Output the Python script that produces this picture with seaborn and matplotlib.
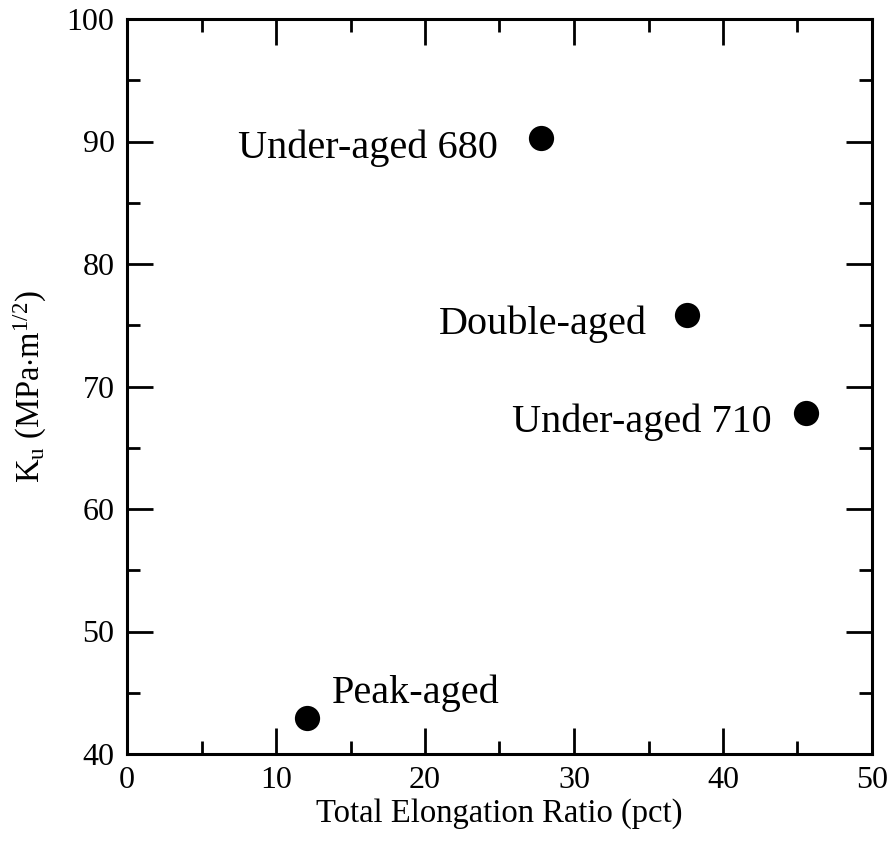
import matplotlib
matplotlib.use("Agg")
import matplotlib.pyplot as plt
import seaborn as sns
import pandas as pd
from matplotlib.ticker import MultipleLocator

# Data
conditions = ["Peak-aged", "Under-aged 680", "Double-aged", "Under-aged 710"]
elongation = [12.1, 27.8, 37.6, 45.55]
ku = [42.9, 90.3, 75.8, 67.8]

df = pd.DataFrame({"elong": elongation, "ku": ku, "cond": conditions})

sns.set_theme(style="white")
plt.rcParams["font.family"] = ["Liberation Serif", "DejaVu Serif"]
plt.rcParams["mathtext.fontset"] = "custom"
plt.rcParams["mathtext.rm"] = "Liberation Serif"
plt.rcParams["mathtext.it"] = "Liberation Serif:italic"
plt.rcParams["text.color"] = "black"
plt.rcParams["axes.labelcolor"] = "black"
plt.rcParams["xtick.color"] = "black"
plt.rcParams["ytick.color"] = "black"

fig = plt.figure(figsize=(8.89, 8.42), dpi=100)
ax = fig.add_axes([127 / 889, 1 - 754 / 842, 745 / 889, 735 / 842])

sns.scatterplot(data=df, x="elong", y="ku", ax=ax, color="black", s=330,
                edgecolor="black", linewidth=0, legend=False, zorder=3)

# label offsets in points (x, y) and alignment
offsets = {
    "Peak-aged": ((18, 10.8), "left"),
    "Under-aged 680": ((-31, -14.4), "right"),
    "Double-aged": ((-29, -13), "right"),
    "Under-aged 710": ((-24.5, -13), "right"),
}
for x, y, c in zip(elongation, ku, conditions):
    off, ha = offsets[c]
    ax.annotate(c, (x, y), xytext=off, textcoords="offset points",
                ha=ha, va="baseline", fontsize=29, color="black")

ax.set_xlim(0, 50)
ax.set_ylim(40, 100)
ax.xaxis.set_major_locator(MultipleLocator(10))
ax.xaxis.set_minor_locator(MultipleLocator(5))
ax.yaxis.set_major_locator(MultipleLocator(10))
ax.yaxis.set_minor_locator(MultipleLocator(5))

ax.tick_params(which="both", direction="in", top=True, right=True,
               bottom=True, left=True, width=2, colors="black",
               labelcolor="black")
ax.tick_params(which="major", length=19, labelsize=23, pad=9)
ax.tick_params(which="minor", length=9.5)

for sp in ax.spines.values():
    sp.set_linewidth(2.2)
    sp.set_color("black")

ax.set_xlabel("Total Elongation Ratio (pct)", fontsize=23.5, labelpad=2,
              color="black")
ax.set_ylabel(r"K$_\mathregular{u}$ (MPa$\cdot$m$^\mathregular{1/2}$)",
              fontsize=23.5, labelpad=13, color="black")

fig.savefig("out.png", dpi=100)
